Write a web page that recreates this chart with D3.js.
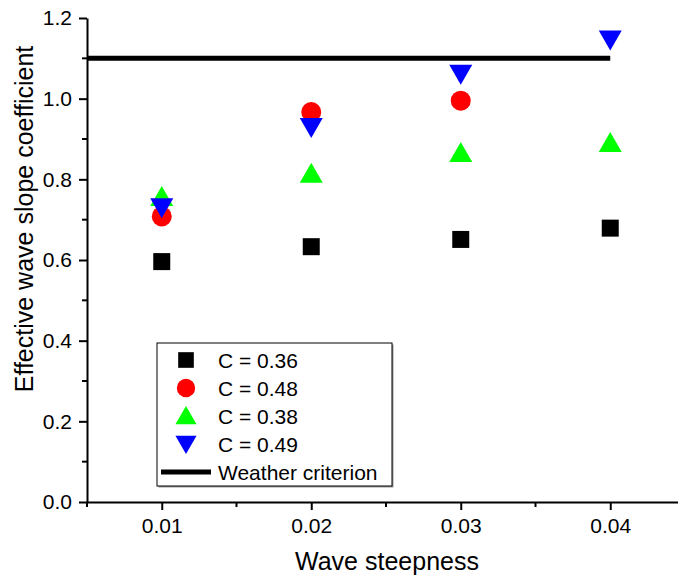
<!DOCTYPE html>
<html>
<head>
<meta charset="utf-8">
<script src="https://cdn.jsdelivr.net/npm/d3@7"></script>
<style>
  body { margin: 0; background: #fff; }
  text { font-family: "Liberation Sans", Arial, sans-serif; fill: #000; }
</style>
</head>
<body>
<div id="root"></div>
<script>
// wave steepness categories
const steepness = [0.01, 0.02, 0.03, 0.04];

// series
const c036 = [0.596, 0.633, 0.651, 0.679];
const c048 = [0.708, 0.967, 0.995, null];
const c038 = [0.756, 0.814, 0.865, 0.890];
const c049 = [0.731, 0.930, 1.062, 1.147];

const seriesNames = ["C = 0.36", "C = 0.48", "C = 0.38", "C = 0.49"];
const criterion = 1.1;
const criterionRange = [0.005, 0.04];

const xTicks = [0.01, 0.02, 0.03, 0.04];
const yTicks = [0.0, 0.2, 0.4, 0.6, 0.8, 1.0, 1.2];

const width = 678, height = 578;
const margin = { left: 87, top: 18, bottom: 502 };

const svg = d3.select("#root").append("svg")
  .attr("width", width)
  .attr("height", height);

// x: 0.01 lands at 162, 0.04 at 611
const x = d3.scaleLinear().domain([0.005, 0.045]).range([87, 685]);
const y = d3.scaleLinear().domain([0, 1.2]).range([502, 18]);

// series styles
const series = [
  { name: seriesNames[0], values: c036, color: "#000000", shape: "square" },
  { name: seriesNames[1], values: c048, color: "#ff0000", shape: "circle" },
  { name: seriesNames[2], values: c038, color: "#00ff00", shape: "up" },
  { name: seriesNames[3], values: c049, color: "#0000ff", shape: "down" }
];

function markerPath(shape) {
  if (shape === "square") return "M-8.5,-8.5h17v17h-17z";
  if (shape === "circle") return d3.symbol(d3.symbolCircle, Math.PI * 10 * 10)();
  if (shape === "up") return "M0,-11L11.5,9H-11.5Z";
  return "M0,11L11.5,-9H-11.5Z";
}

// weather criterion line
svg.append("line")
  .attr("x1", x(criterionRange[0]))
  .attr("x2", x(criterionRange[1]))
  .attr("y1", y(criterion))
  .attr("y2", y(criterion))
  .attr("stroke", "#000")
  .attr("stroke-width", 5);

// markers
series.forEach(s => {
  svg.append("g").selectAll("path")
    .data(steepness.map((v, i) => ({ x: v, y: s.values[i] })).filter(d => d.y != null))
    .join("path")
    .attr("d", markerPath(s.shape))
    .attr("fill", s.color)
    .attr("transform", d => `translate(${x(d.x)},${y(d.y)})`);
});

// axes
const xAxis = svg.append("g")
  .attr("transform", `translate(0,${margin.bottom})`)
  .call(d3.axisBottom(x).tickValues(xTicks).tickFormat(d3.format(".2f")).tickSize(8).tickSizeOuter(0));
xAxis.append("g").selectAll("line")
  .data([0.005, 0.015, 0.025, 0.035])
  .join("line")
  .attr("x1", d => x(d)).attr("x2", d => x(d))
  .attr("y1", 0).attr("y2", 5)
  .attr("stroke", "#000").attr("stroke-width", 2);

const yAxis = svg.append("g")
  .attr("transform", `translate(${margin.left},0)`)
  .call(d3.axisLeft(y).tickValues(yTicks).tickFormat(d3.format(".1f")).tickSize(8).tickSizeOuter(0));
yAxis.append("g").selectAll("line")
  .data([0.1, 0.3, 0.5, 0.7, 0.9, 1.1])
  .join("line")
  .attr("x1", 0).attr("x2", -5)
  .attr("y1", d => y(d)).attr("y2", d => y(d))
  .attr("stroke", "#000").attr("stroke-width", 2);

[xAxis, yAxis].forEach(g => {
  g.select(".domain").attr("stroke-width", 2);
  g.selectAll(".tick line").attr("stroke-width", 2);
  g.selectAll(".tick text")
    .style("font-family", "'Liberation Sans', Arial, sans-serif")
    .attr("font-size", 21);
});
xAxis.selectAll(".tick text").attr("y", 31).attr("dy", 0);
yAxis.selectAll(".tick text").attr("x", -15);

// axis titles
svg.append("text")
  .attr("x", 387).attr("y", 570)
  .attr("text-anchor", "middle")
  .attr("font-size", 25)
  .text("Wave steepness");

svg.append("text")
  .attr("transform", "translate(33,219) rotate(-90)")
  .attr("text-anchor", "middle")
  .attr("font-size", 25)
  .text("Effective wave slope coefficient");

// legend
const legend = svg.append("g").attr("transform", "translate(157,343)");
legend.append("rect")
  .attr("x", 1.5).attr("y", 1.5)
  .attr("width", 235).attr("height", 143)
  .attr("fill", "#999");
legend.append("rect")
  .attr("width", 235).attr("height", 143)
  .attr("fill", "#fff").attr("stroke", "#000").attr("stroke-width", 1);

const rowY = [17, 45, 73, 101, 129];
series.forEach((s, i) => {
  legend.append("path")
    .attr("d", markerPath(s.shape))
    .attr("fill", s.color)
    .attr("transform", `translate(29,${rowY[i]}) scale(0.92)`);
  legend.append("text")
    .attr("x", 61).attr("y", rowY[i] + 7.5)
    .attr("font-size", 21)
    .text(s.name);
});
legend.append("line")
  .attr("x1", 4).attr("x2", 54)
  .attr("y1", rowY[4]).attr("y2", rowY[4])
  .attr("stroke", "#000").attr("stroke-width", 5);
legend.append("text")
  .attr("x", 61).attr("y", rowY[4] + 7.5)
  .attr("font-size", 21)
  .text("Weather criterion");
</script>
</body>
</html>
